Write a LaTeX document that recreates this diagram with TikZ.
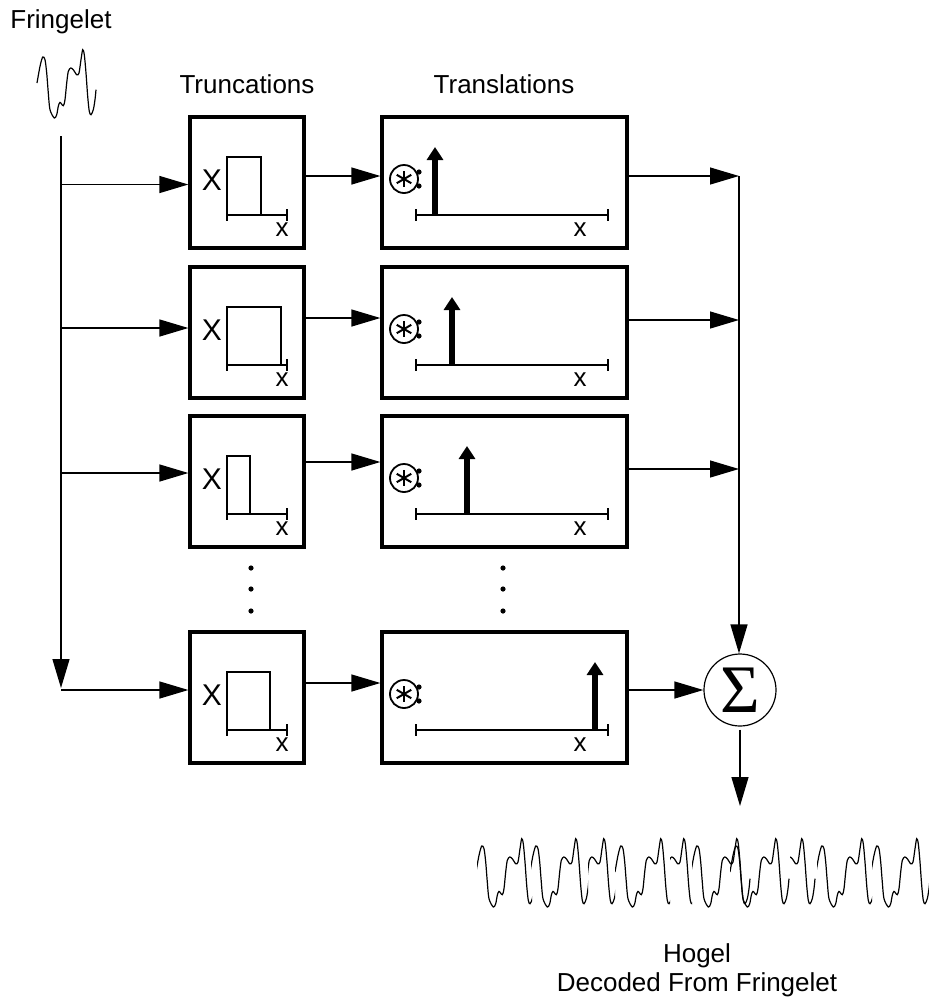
\documentclass[tikz,border=0pt]{standalone}
\usepackage{fontspec}
\setmainfont{Liberation Sans}
\newfontfamily\sigmafont{Liberation Serif}
\usetikzlibrary{arrows.meta,calc}

% one period of the fringelet, starting at (0,0), y counted downwards
\newcommand{\fringeshape}{plot[smooth,tension=0.5] coordinates {(0,0) (3,-16.6) (5.7,-26) (8,-23.3) (9.7,-10) (11.3,10) (13,26.7) (17.3,35) (19.7,31.7) (21.3,23.3) (23,19.4) (26.3,22.7) (28,16.7) (29.7,0) (31.3,-11.6) (33.7,-15) (36.3,-13.3) (39.7,-8.3) (42,-10) (44,-23.3) (45.7,-33.3) (47.3,-28.3) (49,-10) (50.7,13.4) (52.3,28.4) (54,31.7) (56.3,26.7) (58,16.7) (59,6.7)}}

\begin{document}
\begin{tikzpicture}[x=0.5pt,y=-0.5pt,
  lbl/.style={font=\fontsize{13}{14.5}\selectfont},
  box/.style={draw,line width=1.6pt,minimum width=57pt,minimum height=65.5pt,inner sep=0pt},
  widebox/.style={box,minimum width=122.5pt},
  arr/.style={line width=0.65pt,-{Triangle[length=14.5pt,width=8.5pt]}},
  axis/.style={line width=0.55pt},
  spike/.style={line width=3pt,-{Triangle[length=6.5pt,width=8pt]}},
  wave/.style={line width=0.6pt}]

  \useasboundingbox (0,0) rectangle (929,998);

  \node[lbl] (fringetitle) at (61,22) {Fringelet};
  \node[lbl] (trunctitle) at (247,84) {Truncations};
  \node[lbl] (transtitle) at (504,84) {Translations};

  % input fringelet
  \draw[wave,shift={(37,83)}] \fringeshape;

  % rows: truncation box, translation box
  \foreach \r/\T/\yi/\ym/\rr/\sx in {1/117/184.5/176/261/435, 2/267/328/318/281/452, 3/416/473/462/250/467, 4/632/690/683/270/595}{
    \node[box] (trunc\r) at (247,\T+65.5) {};
    \node[widebox] (trans\r) at (504.5,\T+65.5) {};
    % window
    \node[font=\fontsize{15}{15}\selectfont] (bigx\r) at (212,\T+63) {X};
    \draw[axis] (227,\T+40) rectangle (\rr,\T+98);
    \draw[axis] (227,\T+92) -- (227,\T+104) (227,\T+98) -- (287,\T+98) (287,\T+92) -- (287,\T+104);
    \node[lbl] (tx\r) at (282,\T+113) {x};
    % convolution with a shifted impulse
    \draw[line width=0.9pt] (404,\T+62) circle (7pt);
    \foreach \a in {30,90,...,330}
      \draw[line width=1pt] (404,\T+62) -- ++(\a:4.2pt);
    \fill (419,\T+55) circle (1.3pt) (419,\T+69) circle (1.3pt);
    \draw[axis] (416,\T+92) -- (416,\T+104) (416,\T+98) -- (608,\T+98) (608,\T+92) -- (608,\T+104);
    \node[lbl] (ux\r) at (580,\T+113) {x};
    \draw[spike] (\sx,\T+98) -- (\sx,\T+30);
    % connectors
    \coordinate (in\r) at (61,\yi);
    \draw[arr] (in\r) -- (in\r -| trunc\r.west);
    \coordinate (mid\r) at (343,\ym);
    \draw[arr] (mid\r -| trunc\r.east) -- (mid\r -| trans\r.west);
  }

  % fringelet feed line
  \coordinate (fringefoot) at (61,136);
  \coordinate (split) at (61,688);
  \draw[arr] (fringefoot) -- (split);

  % continuation dots
  \foreach \y in {568,589,611}
    \fill (251,\y) circle (1.3pt) (503,\y) circle (1.3pt);

  % summation
  \node[circle,draw,line width=0.6pt,minimum size=36pt,inner sep=0pt,
        font=\sigmafont\fontsize{34}{34}\selectfont] (sum) at (740,690) {Σ};
  \coordinate (out1) at (739,176);
  \coordinate (out2) at (739,320);
  \coordinate (out3) at (739,469);
  \foreach \r in {1,2,3}
    \draw[arr] (out\r -| trans\r.east) -- (out\r);
  \draw[arr] (out1) -- (out1 |- sum.north);
  \draw[arr] (sum.west -| trans4.east) -- (sum.west);
  \coordinate (hogeltop) at (740,806);
  \draw[arr] ([yshift=-1.5pt]sum.south) -- (hogeltop);

  % decoded hogel
  \foreach \p/\a/\b in {522/477/532, 576/531/588, 604/588/615, 661/615/670, 684/670/692, 737/692/752, 776/730/790, 802/790/817, 862/817/872, 917/872/929}{
    \begin{scope}
      \clip (\a,820) rectangle (\b,925);
      \draw[wave,shift={(\p-46,872)}] \fringeshape;
    \end{scope}
  }
  \node[lbl,align=center] (hogeltext) at (697,970) {Hogel\\Decoded From Fringelet};
\end{tikzpicture}
\end{document}
